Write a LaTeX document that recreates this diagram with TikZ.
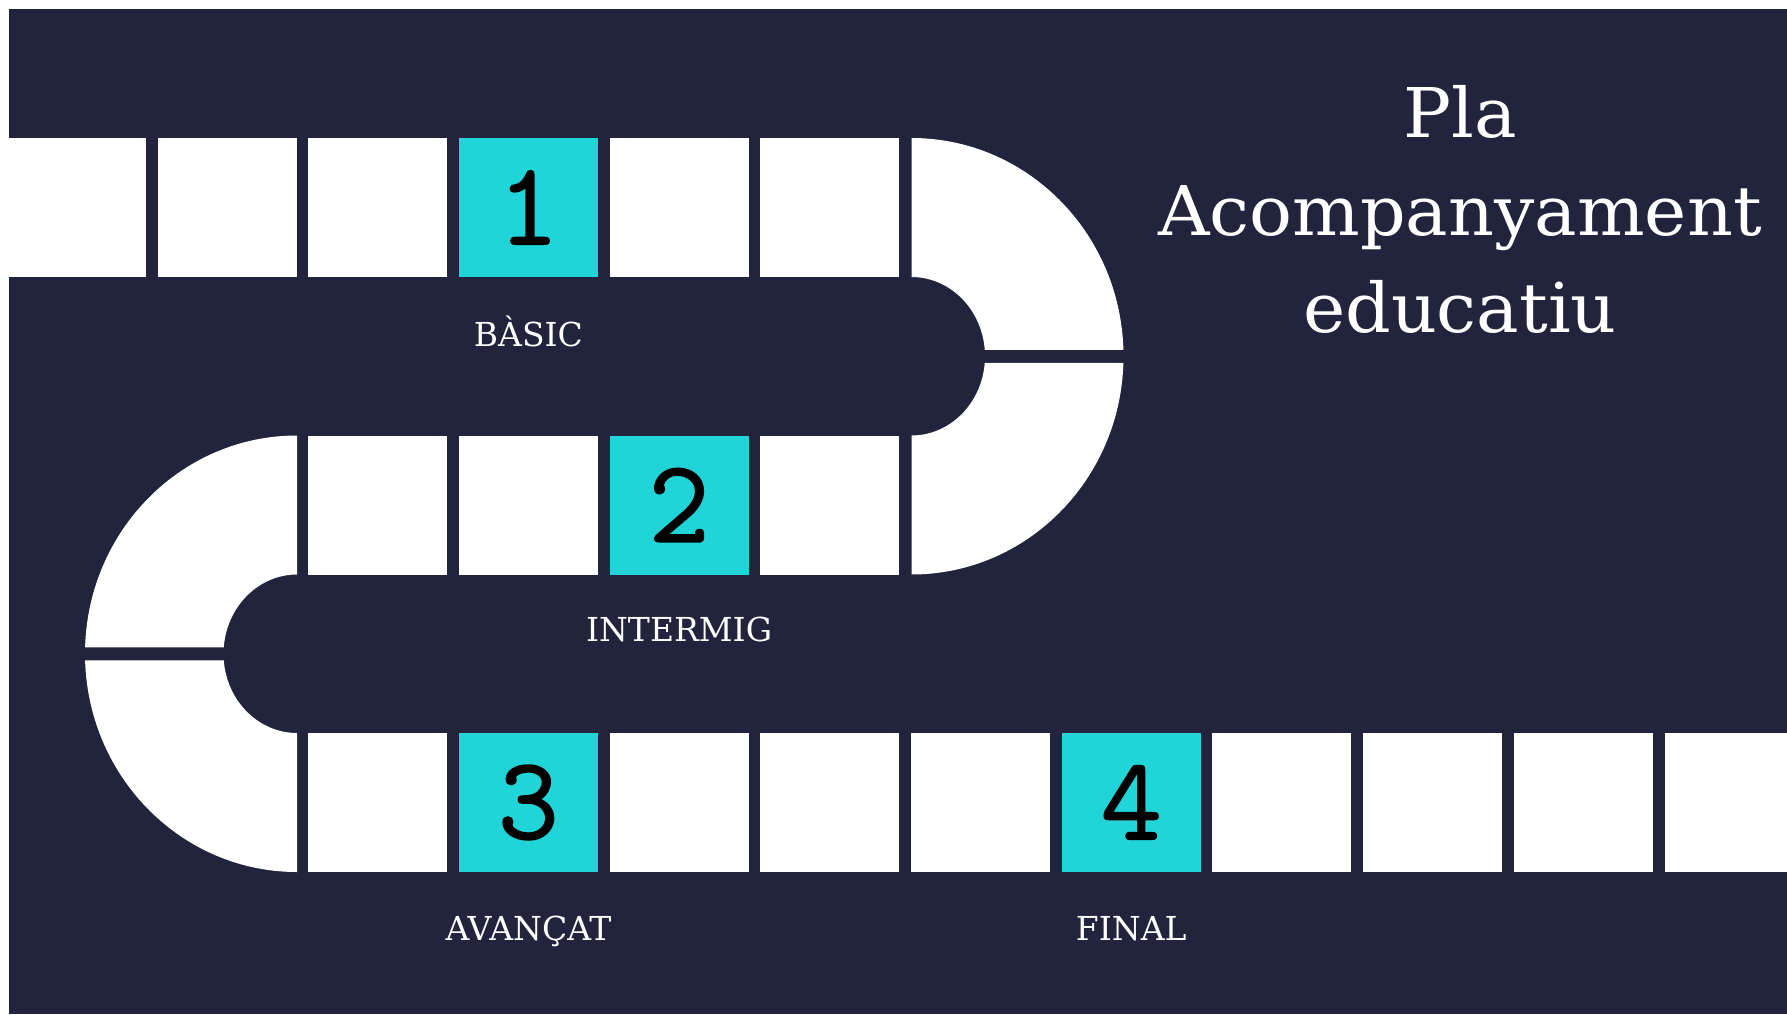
\documentclass[tikz,border=0pt]{standalone}
\usepackage{fontspec}
\setmainfont{DejaVu Serif}
\newfontfamily\titlefont{DejaVu Serif}[FakeStretch=1.04]
\newfontfamily\digitfont{Latin Modern Mono}[FakeBold=1.3]
\definecolor{bgnavy}{HTML}{22233D}
\definecolor{tealbox}{HTML}{21D4D7}
\tikzset{
  tile/.style={fill=white, draw=none, minimum width=139pt, minimum height=139pt, inner sep=0pt, outer sep=0pt},
  hot/.style={tile, fill=tealbox, text=black, font=\digitfont\fontsize{118}{118}\selectfont},
  lbl/.style={text=white, font=\fontsize{33}{33}\selectfont, inner sep=0pt, anchor=base},
  ttl/.style={text=white, font=\titlefont\fontsize{68.6}{97}\selectfont, inner sep=0pt, anchor=base},
  bendpiece/.style={fill=white, draw=none},
}
\begin{document}
\begin{tikzpicture}[x=1pt,y=-1pt]
\useasboundingbox (0,0) rectangle (1787,1014);
\clip (0,0) rectangle (1787,1014);
\fill[white] (0,0) rectangle (1787,1014);
\fill[bgnavy] (9,9) rectangle (1787,1014);

% row 1
\foreach \k in {0,1,2,4,5} \node[tile] (ra\k) at ({76.3+150.7*\k},207.5) {};
\node[hot] (ra3) at ({76.3+150.7*3},207.5) {1};
% row 2
\foreach \k in {2,3,5} \node[tile] (rb\k) at ({76.3+150.7*\k},505) {};
\node[hot] (rb4) at ({76.3+150.7*4},505) {2};
% row 3
\foreach \k in {2,4,5,6,8,9,10,11} \node[tile] (rc\k) at ({76.3+150.7*\k},802.5) {};
\node[hot] (rc3) at ({76.3+150.7*3},802.5) {3};
\node[hot] (rc7) at ({76.3+150.7*7},802.5) {4};

% right bend
\fill[bendpiece] (911.5,138) arc[start angle=-90, end angle=-1.707, x radius=212, y radius=218.25]
  -- (984.75,349.75) arc[start angle=-4.705, end angle=-90, x radius=73.5, y radius=79.25] -- cycle;
\fill[bendpiece] (911.5,574.5) arc[start angle=90, end angle=1.707, x radius=212, y radius=218.25]
  -- (984.75,362.75) arc[start angle=4.705, end angle=90, x radius=73.5, y radius=79.25] -- cycle;
% left bend
\fill[bendpiece] (297,435.5) arc[start angle=-90, end angle=-178.293, x radius=212, y radius=218.25]
  -- (223.75,647.25) arc[start angle=-175.295, end angle=-90, x radius=73.5, y radius=79.25] -- cycle;
\fill[bendpiece] (297,872) arc[start angle=90, end angle=178.293, x radius=212, y radius=218.25]
  -- (223.75,660.25) arc[start angle=175.295, end angle=90, x radius=73.5, y radius=79.25] -- cycle;

% labels
\node[lbl] (l1) at (528.4,346.5) {BÀSIC};
\node[lbl] (l2) at (679.1,641) {INTERMIG};
\node[lbl] (l3) at (528.4,940.5) {AVANÇAT};
\node[lbl] (l4) at (1131.2,940.5) {FINAL};

% title
\node[ttl] (t1) at (1460,138) {Pla};
\node[ttl] (t2) at (1460,235) {Acompanyament};
\node[ttl] (t3) at (1460,332) {educatiu};
\end{tikzpicture}
\end{document}
